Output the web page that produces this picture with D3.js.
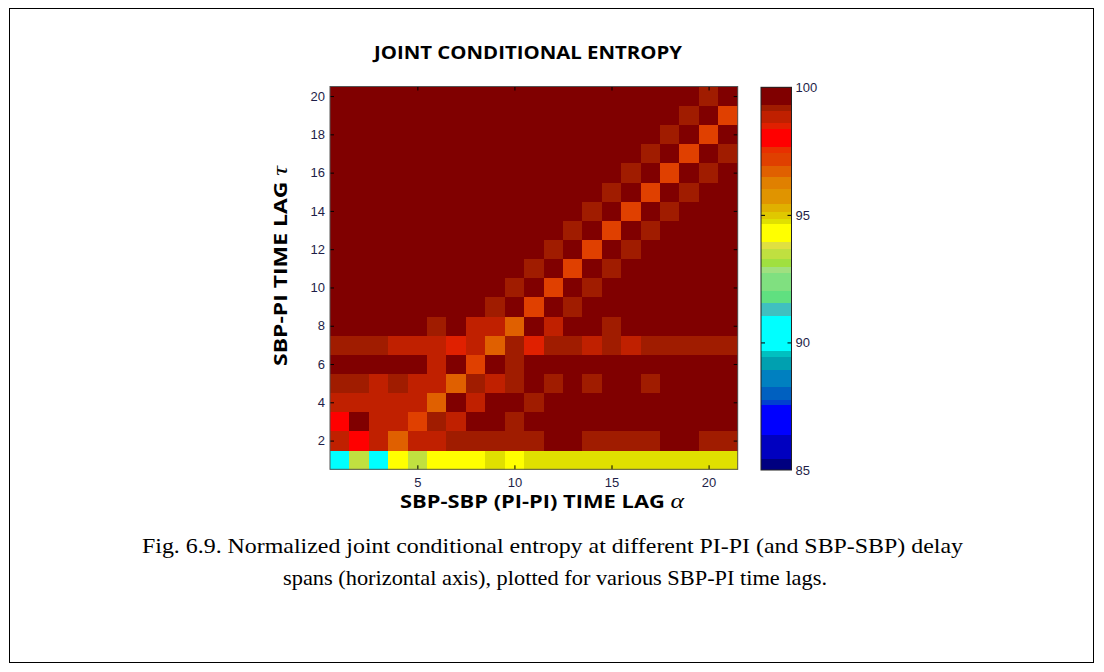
<!DOCTYPE html>
<html>
<head>
<meta charset="utf-8">
<script src="https://cdn.jsdelivr.net/npm/d3@7"></script>
<style>
  html, body { margin: 0; padding: 0; background: #fff; }
  svg { display: block; }
</style>
</head>
<body>
<svg id="chart" width="1104" height="672"></svg>
<script>
// SBP-SBP (PI-PI) time lag alpha (columns) and SBP-PI time lag tau (rows)
const alphaLags = [1, 2, 3, 4, 5, 6, 7, 8, 9, 10, 11, 12, 13, 14, 15, 16, 17, 18, 19, 20, 21];
const tauLags = [1, 2, 3, 4, 5, 6, 7, 8, 9, 10, 11, 12, 13, 14, 15, 16, 17, 18, 19, 20];

// Normalized joint conditional entropy (%), one row per tau, alpha = 1..21
const tau01 = [90.4, 93.5, 90.4, 94.3, 93.5, 94.3, 94.3, 94.3, 94.8, 94.3, 94.8, 94.8, 94.8, 94.8, 94.8, 94.8, 94.8, 94.8, 94.8, 94.8, 94.8];
const tau02 = [98.8, 98.0, 98.8, 96.7, 98.8, 98.8, 99.2, 99.2, 99.2, 99.2, 99.2, 99.7, 99.7, 99.2, 99.2, 99.2, 99.2, 99.7, 99.7, 99.2, 99.2];
const tau03 = [98.0, 99.7, 98.8, 98.8, 97.2, 99.2, 98.8, 99.7, 99.7, 99.2, 99.7, 99.7, 99.7, 99.7, 99.7, 99.7, 99.7, 99.7, 99.7, 99.7, 99.7];
const tau04 = [98.8, 98.8, 98.8, 98.8, 98.8, 96.7, 99.7, 98.8, 99.7, 99.7, 99.2, 99.7, 99.7, 99.7, 99.7, 99.7, 99.7, 99.7, 99.7, 99.7, 99.7];
const tau05 = [99.2, 99.2, 98.8, 99.2, 98.8, 98.8, 96.7, 99.2, 98.8, 99.2, 99.7, 99.2, 99.7, 99.2, 99.7, 99.7, 99.2, 99.7, 99.7, 99.7, 99.7];
const tau06 = [99.7, 99.7, 99.7, 99.7, 99.7, 98.8, 99.7, 97.2, 99.7, 99.2, 99.7, 99.7, 99.7, 99.7, 99.7, 99.7, 99.7, 99.7, 99.7, 99.7, 99.7];
const tau07 = [99.2, 99.2, 99.2, 98.8, 98.8, 98.8, 98.5, 98.8, 96.7, 99.2, 98.5, 99.2, 99.2, 98.8, 99.2, 98.8, 99.2, 99.2, 99.2, 99.2, 99.2];
const tau08 = [99.7, 99.7, 99.7, 99.7, 99.7, 99.2, 99.7, 98.8, 98.8, 96.7, 99.7, 98.8, 99.7, 99.7, 99.2, 99.7, 99.7, 99.7, 99.7, 99.7, 99.7];
const tau09 = [99.7, 99.7, 99.7, 99.7, 99.7, 99.7, 99.7, 99.7, 99.2, 99.7, 97.2, 99.7, 99.2, 99.7, 99.7, 99.7, 99.7, 99.7, 99.7, 99.7, 99.7];
const tau10 = [99.7, 99.7, 99.7, 99.7, 99.7, 99.7, 99.7, 99.7, 99.7, 99.2, 99.7, 97.2, 99.7, 99.2, 99.7, 99.7, 99.7, 99.7, 99.7, 99.7, 99.7];
const tau11 = [99.7, 99.7, 99.7, 99.7, 99.7, 99.7, 99.7, 99.7, 99.7, 99.7, 99.2, 99.7, 97.2, 99.7, 99.2, 99.7, 99.7, 99.7, 99.7, 99.7, 99.7];
const tau12 = [99.7, 99.7, 99.7, 99.7, 99.7, 99.7, 99.7, 99.7, 99.7, 99.7, 99.7, 99.2, 99.7, 97.2, 99.7, 99.2, 99.7, 99.7, 99.7, 99.7, 99.7];
const tau13 = [99.7, 99.7, 99.7, 99.7, 99.7, 99.7, 99.7, 99.7, 99.7, 99.7, 99.7, 99.7, 99.2, 99.7, 97.2, 99.7, 99.2, 99.7, 99.7, 99.7, 99.7];
const tau14 = [99.7, 99.7, 99.7, 99.7, 99.7, 99.7, 99.7, 99.7, 99.7, 99.7, 99.7, 99.7, 99.7, 99.2, 99.7, 97.2, 99.7, 99.2, 99.7, 99.7, 99.7];
const tau15 = [99.7, 99.7, 99.7, 99.7, 99.7, 99.7, 99.7, 99.7, 99.7, 99.7, 99.7, 99.7, 99.7, 99.7, 99.2, 99.7, 97.2, 99.7, 99.2, 99.7, 99.7];
const tau16 = [99.7, 99.7, 99.7, 99.7, 99.7, 99.7, 99.7, 99.7, 99.7, 99.7, 99.7, 99.7, 99.7, 99.7, 99.7, 99.2, 99.7, 97.2, 99.7, 99.2, 99.7];
const tau17 = [99.7, 99.7, 99.7, 99.7, 99.7, 99.7, 99.7, 99.7, 99.7, 99.7, 99.7, 99.7, 99.7, 99.7, 99.7, 99.7, 99.2, 99.7, 97.2, 99.7, 99.2];
const tau18 = [99.7, 99.7, 99.7, 99.7, 99.7, 99.7, 99.7, 99.7, 99.7, 99.7, 99.7, 99.7, 99.7, 99.7, 99.7, 99.7, 99.7, 99.2, 99.7, 97.2, 99.7];
const tau19 = [99.7, 99.7, 99.7, 99.7, 99.7, 99.7, 99.7, 99.7, 99.7, 99.7, 99.7, 99.7, 99.7, 99.7, 99.7, 99.7, 99.7, 99.7, 99.2, 99.7, 97.2];
const tau20 = [99.7, 99.7, 99.7, 99.7, 99.7, 99.7, 99.7, 99.7, 99.7, 99.7, 99.7, 99.7, 99.7, 99.7, 99.7, 99.7, 99.7, 99.7, 99.7, 99.2, 99.7];
const entropyRows = [tau01, tau02, tau03, tau04, tau05, tau06, tau07, tau08, tau09, tau10,
                     tau11, tau12, tau13, tau14, tau15, tau16, tau17, tau18, tau19, tau20];

// Tick values
const alphaTicks = [5, 10, 15, 20];
const tauTicks = [2, 4, 6, 8, 10, 12, 14, 16, 18, 20];
const colorbarLabels = [100, 95, 90, 85];
const colorbarTicks = [95, 90];

// Stepped colour map: band edges (ascending) and band colours (low -> high)
const cmapEdges = [85.46, 86.37, 87.55, 87.77, 88.26, 88.95, 89.44, 89.67, 91.07, 91.56,
                   92.05, 92.73, 92.97, 93.30, 93.66, 93.95, 94.64, 94.86, 95.12, 95.45,
                   96.04, 96.50, 96.95, 97.44, 97.67, 98.37, 98.61, 99.08, 99.33];
const cmapColors = ["#000080", "#0000c0", "#0000ff", "#0040d0", "#0060c0", "#0080c0", "#00a0b0",
                    "#00c0c0", "#00ffff", "#40c0c0", "#60e080", "#80e080", "#a0e080", "#a0e040",
                    "#c0e040", "#e0e040", "#ffff00", "#e0e000", "#e0c800", "#e0b000", "#e09400",
                    "#e08000", "#e06000", "#e04000", "#e83000", "#ff0000", "#e02000", "#c02000",
                    "#a01c00", "#800000"];
const cmapRange = [85, 100];

const svg = d3.select("#chart");
const W = 1104, H = 672;

svg.append("rect").attr("width", W).attr("height", H).attr("fill", "#fff");
// page frame
svg.append("rect")
  .attr("x", 9.5).attr("y", 8.5).attr("width", 1084).attr("height", 654)
  .attr("fill", "none").attr("stroke", "#000").attr("stroke-width", 1);

const plot = { left: 330, right: 737.7, top: 86.5, bottom: 469.3 };
const x = d3.scaleLinear().domain([0.5, 21.5]).range([plot.left, plot.right]);
const y = d3.scaleLinear().domain([0.5, 20.5]).range([plot.bottom, plot.top]);
const color = d3.scaleThreshold().domain(cmapEdges).range(cmapColors);

const cells = [];
entropyRows.forEach((row, i) => {
  row.forEach((v, j) => cells.push({ alpha: alphaLags[j], tau: tauLags[i], value: v }));
});

svg.append("g").selectAll("rect")
  .data(cells)
  .join("rect")
  .attr("x", d => x(d.alpha - 0.5))
  .attr("y", d => y(d.tau + 0.5))
  .attr("width", d => x(d.alpha + 0.5) - x(d.alpha - 0.5) + 0.4)
  .attr("height", d => y(d.tau - 0.5) - y(d.tau + 0.5) + 0.4)
  .attr("fill", d => color(d.value))
  .attr("shape-rendering", "crispEdges");

const tickColor = "#1e1e48";
const tickFont = "'Liberation Sans', Arial, sans-serif";

function styleAxis(g) {
  g.select(".domain").remove();
  g.selectAll(".tick line").attr("stroke", "#000");
  g.selectAll(".tick text").attr("fill", tickColor)
    .style("font-family", tickFont).style("font-size", "13px");
}

svg.append("g").attr("transform", `translate(0,${plot.bottom})`)
  .call(d3.axisBottom(x).tickValues(alphaTicks).tickSize(-4).tickPadding(8))
  .call(styleAxis);
svg.append("g").attr("transform", `translate(0,${plot.top})`)
  .call(d3.axisTop(x).tickValues(alphaTicks).tickSize(-4).tickFormat(""))
  .call(styleAxis);
svg.append("g").attr("transform", `translate(${plot.left},0)`)
  .call(d3.axisLeft(y).tickValues(tauTicks).tickSize(-4).tickPadding(5))
  .call(styleAxis);
svg.append("g").attr("transform", `translate(${plot.right},0)`)
  .call(d3.axisRight(y).tickValues(tauTicks).tickSize(-4).tickFormat(""))
  .call(styleAxis);

svg.append("rect")
  .attr("x", plot.left).attr("y", plot.top)
  .attr("width", plot.right - plot.left).attr("height", plot.bottom - plot.top)
  .attr("fill", "none").attr("stroke", "#555").attr("stroke-width", 1);

// colour bar
const cb = { left: 761, right: 791.5, top: 87.3, bottom: 470 };
const cy = d3.scaleLinear().domain(cmapRange).range([cb.bottom, cb.top]);
const bandLows = [cmapRange[0], ...cmapEdges];
const bandHighs = [...cmapEdges, cmapRange[1]];
svg.append("g").selectAll("rect")
  .data(cmapColors.map((c, i) => ({ lo: bandLows[i], hi: bandHighs[i], c })))
  .join("rect")
  .attr("x", cb.left).attr("width", cb.right - cb.left)
  .attr("y", d => cy(d.hi)).attr("height", d => cy(d.lo) - cy(d.hi) + 0.4)
  .attr("fill", d => d.c)
  .attr("shape-rendering", "crispEdges");

svg.append("g").attr("transform", `translate(${cb.right},0)`)
  .call(d3.axisRight(cy).tickValues(colorbarLabels).tickSize(0).tickPadding(4))
  .call(styleAxis);
svg.append("g").attr("transform", `translate(${cb.right},0)`)
  .call(d3.axisRight(cy).tickValues(colorbarTicks).tickSize(-4).tickFormat(""))
  .call(styleAxis);
svg.append("g").attr("transform", `translate(${cb.left},0)`)
  .call(d3.axisLeft(cy).tickValues(colorbarTicks).tickSize(-4).tickFormat(""))
  .call(styleAxis);
svg.append("rect")
  .attr("x", cb.left).attr("y", cb.top)
  .attr("width", cb.right - cb.left).attr("height", cb.bottom - cb.top)
  .attr("fill", "none").attr("stroke", "#222").attr("stroke-width", 1);

// titles
const labelFont = "'Open Sans', 'DejaVu Sans', sans-serif";
svg.append("text")
  .attr("x", 528).attr("y", 59)
  .attr("text-anchor", "middle")
  .attr("textLength", 308).attr("lengthAdjust", "spacingAndGlyphs")
  .style("font-family", labelFont).style("font-weight", "bold").style("font-size", "17px")
  .attr("fill", "#000")
  .text("JOINT CONDITIONAL ENTROPY");

const xl = svg.append("text")
  .attr("x", 542).attr("y", 508)
  .attr("text-anchor", "middle")
  .attr("textLength", 284).attr("lengthAdjust", "spacingAndGlyphs")
  .style("font-family", labelFont).style("font-weight", "bold").style("font-size", "17px")
  .attr("fill", "#000");
xl.append("tspan").text("SBP-SBP (PI-PI) TIME LAG ");
xl.append("tspan").style("font-family", "'Liberation Serif', serif").style("font-style", "italic")
  .style("font-weight", "normal").style("font-size", "20px").text("α");

const yl = svg.append("text")
  .attr("transform", "translate(287,266) rotate(-90)")
  .attr("text-anchor", "middle")
  .attr("textLength", 200).attr("lengthAdjust", "spacingAndGlyphs")
  .style("font-family", labelFont).style("font-weight", "bold").style("font-size", "17px")
  .attr("fill", "#000");
yl.append("tspan").text("SBP-PI TIME LAG ");
yl.append("tspan").style("font-family", "'Liberation Serif', serif").style("font-style", "italic")
  .style("font-weight", "normal").style("font-size", "20px").text("τ");

// caption
const capFont = "'Liberation Serif', 'Times New Roman', serif";
svg.append("text")
  .attr("x", 552.5).attr("y", 553)
  .attr("text-anchor", "middle")
  .attr("textLength", 821).attr("lengthAdjust", "spacingAndGlyphs")
  .style("font-family", capFont).style("font-size", "21.5px").attr("fill", "#000")
  .text("Fig. 6.9. Normalized joint conditional entropy at different PI-PI (and SBP-SBP) delay");
svg.append("text")
  .attr("x", 555).attr("y", 585)
  .attr("text-anchor", "middle")
  .attr("textLength", 544).attr("lengthAdjust", "spacingAndGlyphs")
  .style("font-family", capFont).style("font-size", "21.5px").attr("fill", "#000")
  .text("spans (horizontal axis), plotted for various SBP-PI time lags.");
</script>
</body>
</html>
